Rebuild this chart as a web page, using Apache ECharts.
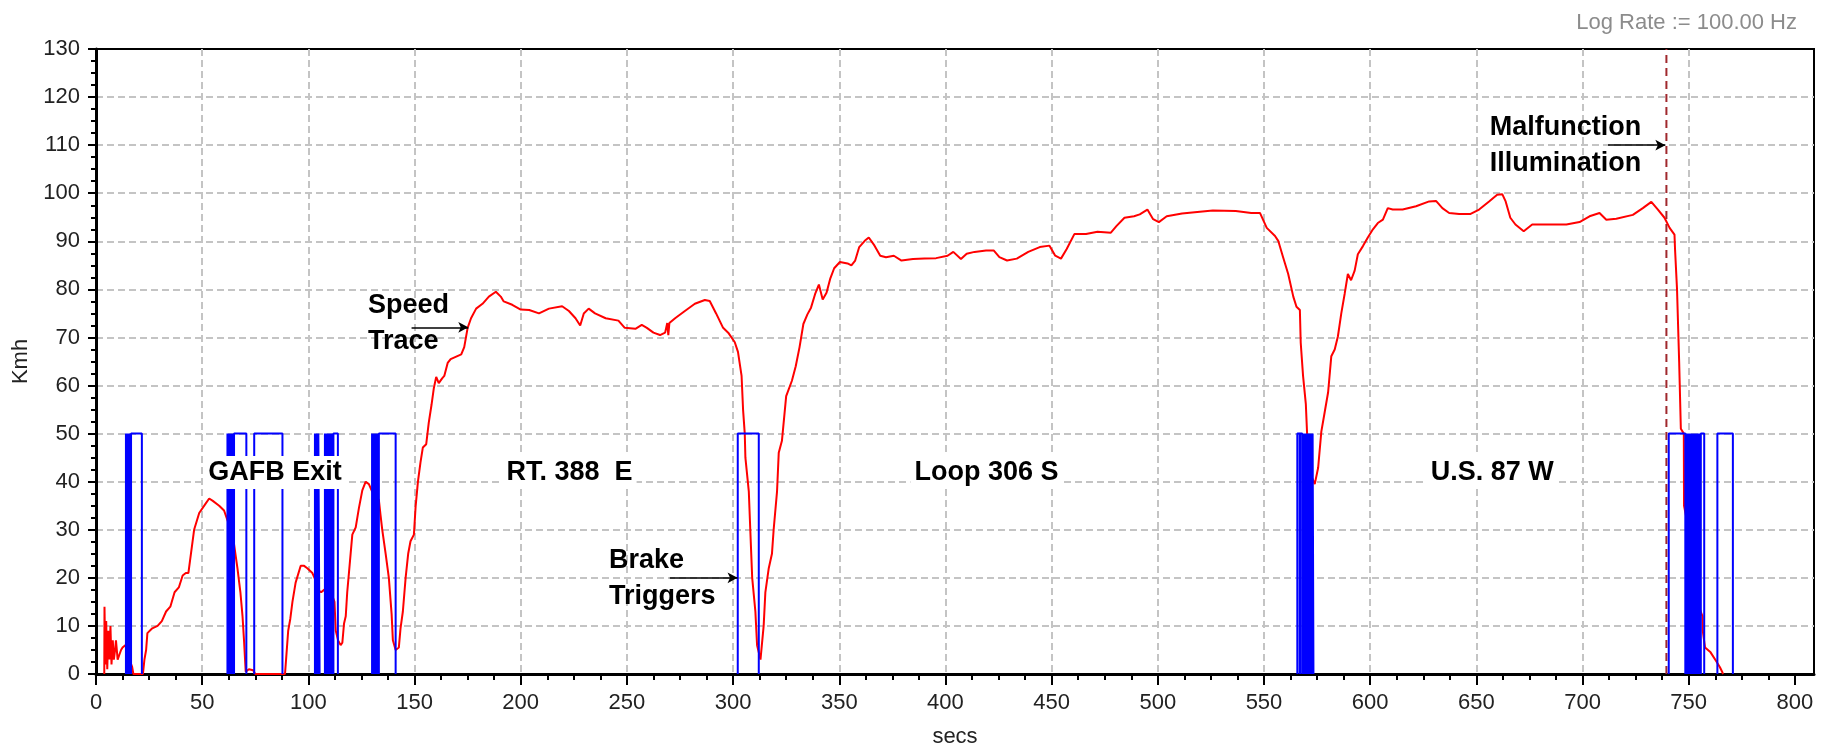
<!DOCTYPE html>
<html>
<head>
<meta charset="utf-8">
<title>Speed trace</title>
<script src="https://cdn.jsdelivr.net/npm/echarts@6/dist/echarts.min.js"></script>
<style>
html, body { margin: 0; padding: 0; background: #fff; }
#myChart { width: 1832px; height: 753px; }
</style>
</head>
<body>
<div id="myChart"></div>
<script>
// tick labels
const xTicks = [0, 50, 100, 150, 200, 250, 300, 350, 400, 450, 500, 550, 600, 650, 700, 750, 800]
const yTicks = [0, 10, 20, 30, 40, 50, 60, 70, 80, 90, 100, 110, 120, 130]

// speed trace [secs, kmh]
const speedGafb = [
  [3.9, 0], [4.0, 14], [4.4, 2], [4.8, 11], [5.3, 1], [5.8, 9], [6.3, 3], [6.8, 10], [7.3, 2],
  [7.9, 7], [8.4, 3], [9.0, 5], [9.4, 7], [10.2, 3], [11.0, 4], [11.8, 5], [12.5, 5.5], [13.8, 6],
  [15.0, 4.5], [16.2, 2.5], [17.0, 1.5], [17.6, 0], [22.1, 0], [22.8, 3], [23.6, 5], [24.2, 8.5],
  [26.5, 9.5], [29, 10], [31, 11], [33, 13], [35, 14], [37, 17], [39, 18], [40.8, 20.5], [42.3, 21],
  [43.5, 21], [44.7, 25], [46.2, 30], [48.6, 33.5], [51.7, 35.5], [53.3, 36.5], [55, 36], [58, 35],
  [60.3, 34], [61.9, 32], [63.5, 30], [65, 27], [66.6, 22], [68, 17], [69, 12], [69.7, 7], [70.5, 0.5],
  [72, 1], [74, 0.8], [75, 0], [89, 0], [89.5, 3], [90.5, 9], [91.5, 11.5], [92.5, 15], [94, 19],
  [96.4, 22.5], [98, 22.5], [99.5, 22], [101.9, 21], [103.4, 19.5], [104.5, 17.5], [106, 17],
  [107.4, 17.5], [108.5, 18], [111.5, 16], [112.3, 15], [112.9, 9], [114, 7], [115.2, 6], [116, 6.5],
  [116.8, 10.5], [117.6, 12], [118.3, 17], [119.1, 21], [119.9, 25], [120.7, 29], [122.3, 30.5],
  [123.8, 34.5], [125.4, 38.2], [127, 40], [128.5, 39.5], [130, 38], [131.7, 37], [133.2, 36.2],
  [134, 33], [134.8, 30], [136.4, 25], [137.9, 20], [139.2, 12.5], [139.8, 7], [141.1, 5], [142.6, 5.5],
  [143.4, 9.5], [144.5, 13], [145.8, 20], [147, 25], [148.1, 27.6], [149.7, 29], [150.5, 34.8],
  [151.6, 40], [152.8, 44], [153.9, 47.1], [155.5, 47.8], [156.7, 52.3], [158, 56], [159.1, 59.5],
  [160.2, 61.8], [161.4, 60.5]
]
const speedRt388 = [
  [163, 61.5], [164, 62], [165.6, 64.7], [167, 65.5], [172, 66.5], [173.4, 68], [175, 72], [176.6, 74],
  [179, 76], [182, 77], [185, 78.5], [188.3, 79.5], [190.6, 78.5], [192, 77.5], [196, 76.8], [200, 75.8],
  [204, 75.7], [208.6, 75], [213.3, 76], [219.5, 76.5], [222.7, 75.5], [225.8, 74], [228, 72.5],
  [229.7, 75], [232, 76], [235, 75], [240, 74], [246, 73.5], [249, 72], [254, 71.8], [257, 72.6],
  [259.4, 72], [262.5, 71], [265.6, 70.5], [268, 71], [269, 73], [269.5, 70.5], [270, 73], [272.7, 74],
  [277.3, 75.5], [282, 77], [286.7, 77.8], [289, 77.6], [292, 75], [295.3, 72], [297.7, 71], [300.8, 69],
  [302.3, 67], [304, 62], [304.7, 55], [305.5, 50], [305.8, 45], [307.4, 38], [308.1, 30], [309, 20],
  [310.5, 13], [311.3, 6], [312.9, 3], [314.4, 10], [315.2, 17], [316.8, 22], [318.3, 25], [319.1, 30],
  [320.7, 38], [321.5, 46], [323, 48.5], [325, 57.8], [327.7, 61], [329.5, 64], [331.3, 68],
  [333.1, 72.8], [335, 74.8], [336.7, 76.2], [338.6, 79], [340.4, 81], [342.2, 77.9], [344, 79.3],
  [345.8, 82.3], [347.6, 84.4], [350.3, 85.7]
]
const speedLoop306 = [
  [353.9, 85.4], [355.7, 85], [357.5, 86], [359.4, 88.8], [362, 90.1], [363.9, 90.8], [366.6, 89.1],
  [369.3, 87], [372, 86.7], [375.7, 87], [379.3, 86], [384.7, 86.3], [390.1, 86.4], [395.6, 86.5],
  [401, 87], [403.7, 87.8], [407.3, 86.3], [410, 87.4], [413.7, 87.8], [419.1, 88.1], [422.7, 88.1],
  [425.4, 86.7], [429, 86], [433.6, 86.4], [439, 87.8], [444.4, 88.8], [449, 89.1], [451.7, 87],
  [454.4, 86.4], [457.1, 88.4], [460.7, 91.5], [466.2, 91.5], [471.6, 92], [477.9, 91.8], [480.6, 93.2],
  [484.3, 94.9], [488.8, 95.2], [491.5, 95.6], [495.1, 96.6], [497.8, 94.6], [500.5, 94], [504.2, 95.2],
  [511.4, 95.8], [518.6, 96.1], [525.9, 96.4], [536.7, 96.3], [544, 95.9], [548.1, 95.9], [551.3, 92.8],
  [555.2, 91.1], [556.7, 90.1], [559, 86.7], [561.4, 83.2], [563.8, 78.5], [565.3, 76.4], [566.9, 75.7],
  [567.3, 68.9], [568.4, 62], [569.7, 56.2], [570.3, 50], [571.3, 42.2], [573.9, 39.5]
]
const speedUs87 = [
  [575.5, 42.9], [577, 50.4], [578.6, 54.5], [580.2, 58.6], [581.7, 66.1], [583.3, 67.5], [584.8, 70.2],
  [586.4, 75], [588, 79.1], [589.5, 83.2], [591, 81.9], [592.7, 83.9], [594.2, 87.3], [596.6, 89],
  [598.9, 90.8], [601.3, 92.5], [603.6, 93.8], [606, 94.5], [608.3, 96.9], [610.6, 96.6], [615.3, 96.6],
  [621.6, 97.3], [627.8, 98.3], [631, 98.4], [634, 96.9], [637.2, 95.9], [641.9, 95.7], [647.3, 95.7],
  [651.3, 96.6], [656, 98.3], [659.8, 99.7], [662.2, 99.8], [663.8, 98.3], [666, 94.9], [668.4, 93.5],
  [672.3, 92.1], [676.3, 93.5], [684, 93.5], [692.4, 93.5], [698.6, 94], [703.3, 95.2], [708, 95.9],
  [711.2, 94.5], [715.9, 94.7], [723.7, 95.5], [728.4, 96.9], [732.4, 98.2], [735.5, 96.6], [738.6, 94.9],
  [741, 92.8], [743.3, 91.4], [743.6, 88], [744.5, 80], [745.5, 65], [746.3, 51], [747.7, 50], [747.8, 35],
  [750, 30], [754, 15], [756.5, 12], [756.6, 9], [757.7, 5.5], [760.3, 4.5], [762.9, 2.7], [764.7, 1.4],
  [765.9, 0.3], [766.2, 0]
]

// brake switch edges (secs), alternating on / off, starting off
const brakeGafb = [
  14.1, 14.5, 14.9, 15.3, 15.7, 16.1, 16.5, 21.6,
  61.9, 62.3, 62.7, 63.1, 63.5, 63.9, 64.3, 64.7, 65.0, 70.8,
  74.5, 87.8,
  103.1, 103.5, 103.9, 104.3, 104.7, 105.3,
  107.8, 108.2, 108.6, 109.0, 109.4, 109.8, 110.2, 110.6, 111.0, 111.4, 111.8, 113.9,
  130.0, 130.4, 130.8, 131.2, 131.6, 132.0, 132.4, 132.8, 133.2, 141.1
]
const brakeRt388 = [302.2, 312.1]
const brakeLoop306 = [
  565.7, 566.8, 567.0, 568.0, 568.2, 568.9, 569.1, 569.5, 569.9, 570.3, 570.7, 571.1,
  571.5, 571.9, 572.3, 572.7, 572.9, 573.3
]
const brakeUs87 = [
  740.6, 748.4, 748.6, 749.0, 749.4, 749.8, 750.2, 750.6, 751.0, 751.4, 751.8, 752.2,
  752.6, 753.0, 753.4, 753.8, 754.2, 754.6, 755.0, 755.4, 755.7, 757.3,
  763.5, 770.8
]
const brakeOn = 50
const malfunctionAt = 739.5

// text on the plot
const sectionNames = ['GAFB Exit', 'RT. 388  E', 'Loop 306 S', 'U.S. 87 W']
const sectionAt = [[84.3, 41.9], [223, 41.9], [419.3, 41.9], [657.5, 41.9]]
const calloutNames = ['Speed\nTrace', 'Brake\nTriggers', 'Malfunction\nIllumination']
const calloutAt = [[128.1, 72.8], [241.6, 19.9], [656.3, 110.0]]
const arrowFrom = [[148.6, 72.1], [270.2, 20], [712, 110]]
const arrowTo = [[175.3, 72.1], [302.1, 20], [739, 110]]

let speed = speedGafb.concat(speedRt388, speedLoop306, speedUs87)

// one closed-top pulse per on/off pair, broken between pulses
function pulses (edges) {
  let out = []
  for (let i = 0; i + 1 < edges.length; i += 2) {
    out.push([edges[i], 0], [edges[i], brakeOn], [edges[i + 1], brakeOn], [edges[i + 1], 0], '-')
  }
  return out
}
let brake = pulses(brakeGafb.concat(brakeRt388, brakeLoop306, brakeUs87))

let notes = sectionNames.map(function (name, i) {
  return {
    name: name,
    value: sectionAt[i],
    label: { position: 'inside', backgroundColor: '#fff', padding: [3, 4] }
  }
}).concat(calloutNames.map(function (name, i) {
  return {
    name: name,
    value: calloutAt[i],
    label: { position: 'right', distance: 0, align: 'left', verticalAlign: 'middle', lineHeight: 36 }
  }
}))

let font = 'Liberation Sans, Arial, sans-serif'
let gridLine = { lineStyle: { color: '#c4c4c4', width: 2, type: [7, 4] }, showMinLine: false, showMaxLine: false }
let myChart = echarts.init(document.getElementById('myChart'))
let option = {
  animation: false,
  backgroundColor: '#fff',
  title: {
    text: 'Log Rate := 100.00 Hz',
    right: 30,
    top: 7,
    textStyle: { fontFamily: font, fontSize: 22, fontWeight: 'normal', color: '#8c8c8c' }
  },
  grid: {
    left: 96,
    right: 18,
    top: 49,
    bottom: 73,
    show: true,
    borderColor: '#000',
    borderWidth: 2,
    backgroundColor: '#fff'
  },
  xAxis: {
    type: 'value',
    min: 0,
    max: 809,
    interval: 50,
    name: 'secs',
    nameLocation: 'middle',
    nameGap: 52,
    nameTextStyle: { fontFamily: font, fontSize: 22, color: '#222' },
    axisLine: { lineStyle: { color: '#000', width: 3 } },
    axisTick: { length: 11, lineStyle: { color: '#000', width: 2 }, customValues: xTicks },
    minorTick: { show: true, splitNumber: 4, length: 6, lineStyle: { color: '#000', width: 2 } },
    axisLabel: { customValues: xTicks, margin: 18, fontFamily: font, fontSize: 22, color: '#222' },
    splitLine: gridLine
  },
  yAxis: {
    type: 'value',
    min: 0,
    max: 130,
    interval: 10,
    name: 'Kmh',
    nameLocation: 'middle',
    nameGap: 64,
    nameTextStyle: { fontFamily: font, fontSize: 22, color: '#222' },
    axisLine: { show: true, lineStyle: { color: '#000', width: 3 } },
    axisTick: { show: true, length: 8, lineStyle: { color: '#000', width: 2 }, customValues: yTicks },
    minorTick: { show: true, splitNumber: 4, length: 5, lineStyle: { color: '#000', width: 2 } },
    axisLabel: { customValues: yTicks, margin: 16, fontFamily: font, fontSize: 22, color: '#222' },
    splitLine: gridLine
  },
  series: [
    {
      name: 'Malfunction',
      type: 'line',
      symbol: 'none',
      data: [[malfunctionAt, 0], [malfunctionAt, 130]],
      lineStyle: { color: '#a0282d', width: 2, type: [8, 5] },
      z: 1
    },
    {
      name: 'Speed',
      type: 'line',
      symbol: 'none',
      data: speed,
      lineStyle: { color: '#ff0000', width: 2 },
      z: 2
    },
    {
      name: 'Brake',
      type: 'line',
      symbol: 'none',
      connectNulls: false,
      data: brake,
      lineStyle: { color: '#0000ff', width: 2 },
      z: 3
    },
    {
      name: 'Notes',
      type: 'scatter',
      symbolSize: 0,
      data: notes,
      z: 5,
      itemStyle: { opacity: 1 },
      label: {
        show: true,
        formatter: '{b}',
        fontFamily: font,
        fontSize: 27,
        fontWeight: 'bold',
        color: '#000'
      },
      markLine: {
        silent: true,
        symbol: ['none', 'arrow'],
        symbolSize: [8, 10],
        label: { show: false },
        lineStyle: { color: '#000', width: 1.5, type: 'solid', opacity: 1 },
        data: arrowFrom.map(function (p, i) {
          return [{ coord: p }, { coord: arrowTo[i] }]
        })
      }
    }
  ]
}
myChart.setOption(option)
</script>
</body>
</html>
